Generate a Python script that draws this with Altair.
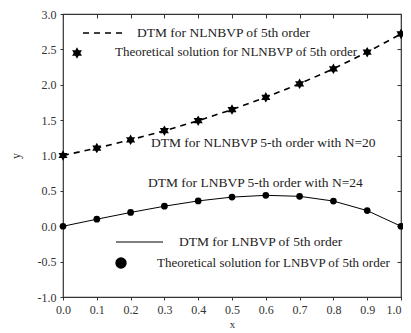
import altair as alt
import pandas as pd

x_vals = [0.0, 0.1, 0.2, 0.3, 0.4, 0.5, 0.6, 0.7, 0.8, 0.9, 1.0]
nl_vals = [1.0, 1.105, 1.221, 1.350, 1.492, 1.649, 1.822, 2.014, 2.226, 2.460, 2.718]
l_vals = [0.0, 0.0995, 0.195, 0.283, 0.358, 0.412, 0.437, 0.423, 0.356, 0.221, 0.0]
x_ticks = [0.0, 0.1, 0.2, 0.3, 0.4, 0.5, 0.6, 0.7, 0.8, 0.9, 1.0]
y_ticks = [-1.0, -0.5, 0.0, 0.5, 1.0, 1.5, 2.0, 2.5, 3.0]

legend_nl_line = "DTM for NLNBVP of 5th order"
legend_nl_pts = "Theoretical solution for NLNBVP of 5th order"
legend_l_line = "DTM for LNBVP of 5th order"
legend_l_pts = "Theoretical solution for LNBVP of 5th order"
note_nl = "DTM for  NLNBVP 5-th order with N=20"
note_l = "DTM for  LNBVP 5-th order with  N=24"

FONT = "Liberation Serif, Times New Roman, DejaVu Serif, serif"
STAR = ("M0,-1L0.2887,-0.5L0.866,-0.5L0.577,0L0.866,0.5L0.2887,0.5L0,1"
        "L-0.2887,0.5L-0.866,0.5L-0.577,0L-0.866,-0.5L-0.2887,-0.5Z")

df = pd.DataFrame({"x": x_vals, "nl": nl_vals, "l": l_vals})

W, H = 338, 283

xs = alt.Scale(domain=[0, 1], nice=False, zero=False)
ys = alt.Scale(domain=[-1, 3], nice=False, zero=False)

LBL = "replace(format(datum.value, '.1f'), '\u2212', '-')"

ax_bottom = alt.Axis(values=x_ticks, labelExpr=LBL, grid=False, domain=False, tickSize=3,
                     labelFlush=False, labelOverlap=False,
                     labelAlign={"expr": "datum.value >= 1 ? 'right' : 'center'"},
                     labelFont=FONT, labelFontSize=12, labelColor="#333", tickColor="#333",
                     title="x", titleFont=FONT, titleFontSize=11, titleFontWeight="normal",
                     titleColor="#333", labelPadding=4, titlePadding=3)
ax_left = alt.Axis(values=y_ticks, labelExpr=LBL, grid=False, domain=False, tickSize=3,
                   labelFlush=False, labelOverlap=False,
                   labelFont=FONT, labelFontSize=12, labelColor="#333", tickColor="#333",
                   title="y", titleFont=FONT, titleFontSize=12, titleFontWeight="normal",
                   titleColor="#333", labelPadding=4, titlePadding=15)
ax_top = alt.Axis(orient="top", values=x_ticks, grid=False, domain=False, labels=False,
                  tickSize=4, offset=-4, title=None, tickColor="#333")
ax_right = alt.Axis(orient="right", values=y_ticks, grid=False, domain=False, labels=False,
                    tickSize=4, offset=-4, title=None, tickColor="#333")

base = alt.Chart(df)

nl_line = base.mark_line(color="black", strokeWidth=1.6, strokeDash=[6, 5]).encode(
    x=alt.X("x:Q", scale=xs, axis=ax_bottom),
    y=alt.Y("nl:Q", scale=ys, axis=ax_left),
)
nl_pts = base.mark_point(shape=STAR, filled=True, color="black", size=110, opacity=1).encode(
    x=alt.X("x:Q", scale=xs, axis=ax_top),
    y=alt.Y("nl:Q", scale=ys, axis=ax_right),
)
l_line = base.mark_line(color="black", strokeWidth=1).encode(
    x=alt.X("x:Q", scale=xs, axis=None),
    y=alt.Y("l:Q", scale=ys, axis=None),
)
l_pts = base.mark_circle(color="black", size=45, opacity=1).encode(
    x=alt.X("x:Q", scale=xs, axis=None),
    y=alt.Y("l:Q", scale=ys, axis=None),
)

one = pd.DataFrame({"a": [0]})


def txt(s, px, py, size):
    return alt.Chart(one).mark_text(text=s, font=FONT, fontSize=size, align="left",
                                    baseline="middle", color="#222").encode(
        x=alt.value(px), y=alt.value(py))


def hrule(x1, x2, py, dash=None, width=1):
    kw = dict(color="black", strokeWidth=width)
    if dash:
        kw["strokeDash"] = dash
    return alt.Chart(one).mark_rule(**kw).encode(
        x=alt.value(x1), x2=alt.value(x2), y=alt.value(py))


leg = [
    hrule(20, 63, 19, dash=[6, 5], width=1.6),
    txt(legend_nl_line, 74, 19, 13.5),
    alt.Chart(one).mark_point(shape=STAR, filled=True, color="black", size=130, opacity=1).encode(
        x=alt.value(14), y=alt.value(39)),
    txt(legend_nl_pts, 52, 38, 13),
    txt(note_nl, 88, 129, 13.5),
    txt(note_l, 85, 169, 13.5),
    hrule(53, 100, 228, width=1),
    txt(legend_l_line, 116, 228, 13.5),
    alt.Chart(one).mark_circle(color="black", size=130, opacity=1).encode(
        x=alt.value(58), y=alt.value(249)),
    txt(legend_l_pts, 94, 249, 13),
]

chart = alt.layer(nl_line, nl_pts, l_line, l_pts, *leg).resolve_axis(
    x="independent", y="independent"
).properties(
    width=W, height=H,
    autosize=alt.AutoSizeParams(type="none"),
    padding={"left": 55, "top": 6, "right": 2, "bottom": 32},
).configure_view(stroke="#333", strokeWidth=1.2)

chart.save("out.html", embed_options={"renderer": "svg", "actions": False})
